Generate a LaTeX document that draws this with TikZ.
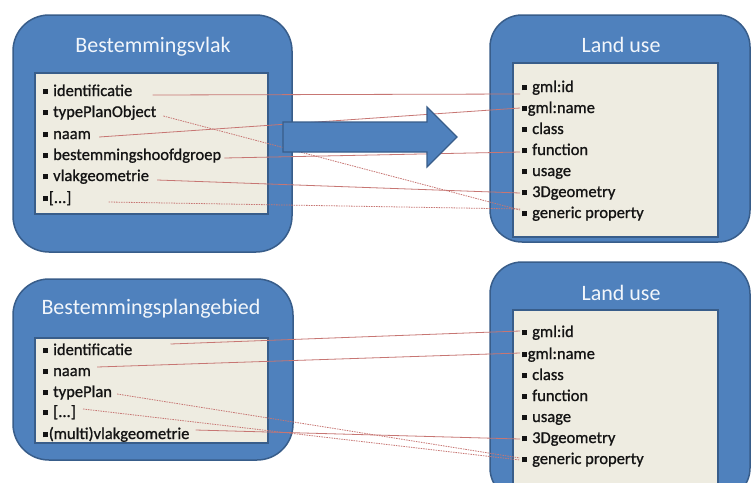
\documentclass[tikz,border=0pt]{standalone}
\usepackage{fontspec}
\setmainfont{Carlito}
\newfontfamily\entryfont{Carlito}[FakeBold=1]
\definecolor{boxblue}{HTML}{4F81BD}
\definecolor{edgeblue}{HTML}{385D8A}
\definecolor{cream}{HTML}{EEECE1}
\definecolor{maplinecol}{HTML}{C77673}
\definecolor{entrytext}{HTML}{141414}
\definecolor{titletext}{HTML}{F2F6FB}
% square bullet, with normal and tight spacing after it
\newcommand\itemsq{\rule[1.6pt]{5pt}{5pt}\hspace{5pt}}
\newcommand\itemsqtight{\rule[1.6pt]{5pt}{5pt}\hspace{0.6pt}}
\begin{document}
\begin{tikzpicture}[x=1pt,y=-1pt,
  outerbox/.style={draw=edgeblue, line width=1.5pt, fill=boxblue, inner sep=0pt},
  innerbox/.style={draw=edgeblue, line width=1.5pt, fill=cream, inner sep=0pt},
  boxtitle/.style={text=titletext, inner sep=0pt, font=\fontsize{22}{26}\selectfont},
  entry/.style={anchor=west, inner sep=0pt, text=entrytext, text height=12pt, text depth=4pt,
                font=\entryfont\fontsize{16.5}{21}\selectfont},
  mapline/.style={draw=maplinecol, line width=0.8pt},
  mapdots/.style={mapline, dash pattern=on 1.5pt off 1pt},
  bigarrow/.style={draw=edgeblue, line width=1.2pt, fill=boxblue, line join=miter}]

\clip (0,0) rectangle (751,482);
\fill[white] (0,0) rectangle (751,482);

% ---------- containers ----------
\node[outerbox, rounded corners=36pt, minimum width=279pt, minimum height=237pt] (bvOuter) at (152.5,133.5) {};
\node[innerbox, minimum width=233pt, minimum height=141pt] (bvInner) at (151.5,143.5) {};
\node[boxtitle] (bvTitle) at (153,47) {Bestemmingsvlak};

\node[outerbox, rounded corners=32pt, minimum width=260pt, minimum height=227pt] (luOuterA) at (620,128.5) {};
\node[innerbox, minimum width=205pt, minimum height=174pt] (luInnerA) at (615.5,150) {};
\node[boxtitle] (luTitleA) at (621,45) {Land use};

\node[outerbox, rounded corners=36pt, minimum width=280pt, minimum height=181pt] (bpOuter) at (153,369.5) {};
\node[innerbox, minimum width=233pt, minimum height=105pt] (bpInner) at (151.5,390.5) {};
\node[boxtitle] (bpTitle) at (151,309) {Bestemmingsplangebied};

\node[outerbox, rounded corners=32pt, minimum width=260pt, minimum height=238pt] (luOuterB) at (620,381) {};
\node[innerbox, minimum width=205pt, minimum height=180pt] (luInnerB) at (615.5,400) {};
\node[boxtitle] (luTitleB) at (621,293) {Land use};

% ---------- attribute lists ----------
\node[entry] (bvId)    at (43,92)  {\itemsq identificatie};
\node[entry] (bvType)  at (43,113) {\itemsq typePlanObject};
\node[entry] (bvNaam)  at (43,135) {\itemsq naam};
\node[entry] (bvHoofd) at (43,156) {\itemsq bestemmingshoofdgroep};
\node[entry] (bvGeom)  at (43,177) {\itemsq vlakgeometrie};
\node[entry] (bvMore)  at (43,199) {\itemsqtight[...]};

\node[entry] (aId)    at (522,88)  {\itemsq gml:id};
\node[entry] (aName)  at (522,109) {\itemsqtight gml:name};
\node[entry] (aClass) at (522,130) {\itemsq class};
\node[entry] (aFunc)  at (522,151) {\itemsq function};
\node[entry] (aUsage) at (522,172) {\itemsq usage};
\node[entry] (aGeom)  at (522,193) {\itemsq 3Dgeometry};
\node[entry] (aGen)   at (522,214) {\itemsq generic property};

\node[entry] (bpId)   at (43,351) {\itemsq identificatie};
\node[entry] (bpNaam) at (43,372) {\itemsq naam};
\node[entry] (bpType) at (43,393) {\itemsq typePlan};
\node[entry] (bpMore) at (43,413) {\itemsq [...]};
\node[entry] (bpGeom) at (43,435) {\itemsqtight (multi)vlakgeometrie};

\node[entry] (bId)    at (522,333) {\itemsq gml:id};
\node[entry] (bName)  at (522,355) {\itemsqtight gml:name};
\node[entry] (bClass) at (522,376) {\itemsq class};
\node[entry] (bFunc)  at (522,397) {\itemsq function};
\node[entry] (bUsage) at (522,418) {\itemsq usage};
\node[entry] (bGeom)  at (522,439) {\itemsq 3Dgeometry};
\node[entry] (bGen)   at (522,460) {\itemsq generic property};

% ---------- attribute mappings ----------
\draw[mapline] ([xshift=20pt,yshift=-3pt]bvId.east)   -- ([xshift=-2pt,yshift=-6pt]aId.west);
\draw[mapdots] ([xshift=7pt,yshift=-3pt]bvType.east)  -- ([xshift=-2pt,yshift=4pt]aGen.west);
\draw[mapline] ([xshift=8pt,yshift=-2pt]bvNaam.east)  -- ([xshift=-2pt,yshift=1pt]aName.west);
\draw[mapline] ([xshift=3pt,yshift=-2pt]bvHoofd.east) -- ([xshift=-2pt,yshift=-1pt]aFunc.west);
\draw[mapline] ([xshift=8pt,yshift=-3pt]bvGeom.east)  -- ([xshift=-2pt]aGeom.west);
\draw[mapdots] ([xshift=37pt,yshift=-3pt]bvMore.east) -- ([xshift=-2pt,yshift=5pt]aGen.west);

\draw[mapline] ([xshift=38pt,yshift=7pt]bpId.east)   -- ([xshift=-2pt,yshift=2pt]bId.west);
\draw[mapline] ([xshift=6pt,yshift=5pt]bpNaam.east)  -- ([xshift=-2pt,yshift=2pt]bName.west);
\draw[mapdots] ([xshift=5pt,yshift=-1pt]bpType.east) -- ([xshift=-2pt,yshift=2pt]bGen.west);
\draw[mapdots] ([xshift=7pt,yshift=4pt]bpMore.east)  -- ([xshift=-2pt]bGen.west);
\draw[mapline] ([xshift=6pt,yshift=5pt]bpGeom.east)  -- ([xshift=-2pt]bGeom.west);

% ---------- block arrow ----------
\draw[bigarrow] (283,122) -- (427,122) -- (427,107) -- (457,137) -- (427,167) -- (427,152) -- (283,152) -- cycle;

\end{tikzpicture}
\end{document}
